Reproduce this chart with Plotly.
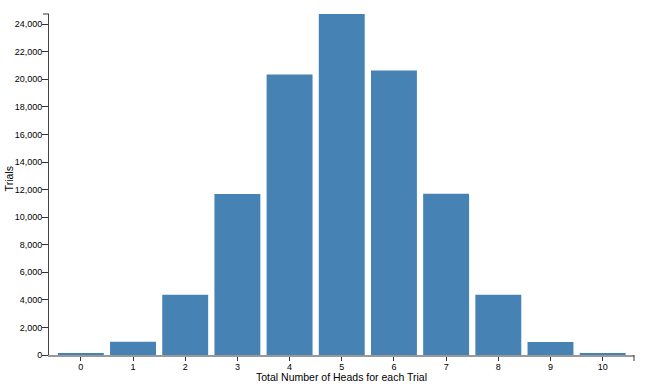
import plotly.graph_objects as go

heads = [0, 1, 2, 3, 4, 5, 6, 7, 8, 9, 10]
trials = [95, 970, 4380, 11680, 20350, 24740, 20640, 11700, 4380, 950, 95]
y_ticks = list(range(0, 26000, 2000))

x_title = "Total Number of Heads for each Trial"
y_title = "Trials"

fig = go.Figure(
    go.Bar(
        x=heads,
        y=trials,
        marker=dict(color="#4682B4", line=dict(width=0)),
        hoverinfo="x+y",
    )
)

font = "Liberation Sans, Arial, Helvetica, sans-serif"

fig.update_layout(
    width=650,
    height=390,
    margin=dict(l=49, r=16, t=14, b=35),
    paper_bgcolor="white",
    plot_bgcolor="white",
    bargap=0.12,
    showlegend=False,
    font=dict(family=font, size=9, color="#000"),
    annotations=[
        dict(text=x_title, xref="paper", yref="paper", x=0.5, y=0, yshift=-22,
             xanchor="center", yanchor="middle", showarrow=False,
             font=dict(family=font, size=10.5, color="#000")),
        dict(text=y_title, xref="paper", yref="paper", x=0, xshift=-40, y=0.515,
             xanchor="center", yanchor="middle", textangle=-90, showarrow=False,
             font=dict(family=font, size=10.5, color="#000")),
    ],
    shapes=[
        dict(type="line", xref="paper", yref="paper", ysizemode="pixel", yanchor=0,
             x0=1, x1=1, y0=0, y1=-6, line=dict(color="#333", width=1)),
        dict(type="line", xref="paper", yref="paper", xsizemode="pixel", xanchor=0,
             x0=0, x1=-6, y0=1, y1=1, line=dict(color="#333", width=1)),
    ],
)

fig.update_xaxes(
    range=[-0.61, 10.6],
    tickmode="array",
    tickvals=heads,
    ticktext=[str(h) for h in heads],
    ticks="outside",
    ticklen=4,
    tickcolor="#333",
    ticklabelstandoff=-2,
    showline=True,
    linecolor="#999",
    linewidth=2,
    showgrid=False,
    zeroline=False,
    fixedrange=True,
    automargin=False,
)

fig.update_yaxes(
    range=[0, max(trials)],
    tickmode="array",
    tickvals=y_ticks,
    ticktext=[f"{v:,}" for v in y_ticks],
    ticks="outside",
    ticklen=6,
    tickcolor="#333",
    ticklabelstandoff=-2,
    showline=True,
    linecolor="#444",
    linewidth=1,
    showgrid=False,
    zeroline=False,
    fixedrange=True,
    automargin=False,
)

# remove the browser's default 8px body margin so the figure sits at the page corner
fig.write_html(
    "out.html",
    config={"displayModeBar": False},
    post_script="document.body.style.margin='0';",
)
